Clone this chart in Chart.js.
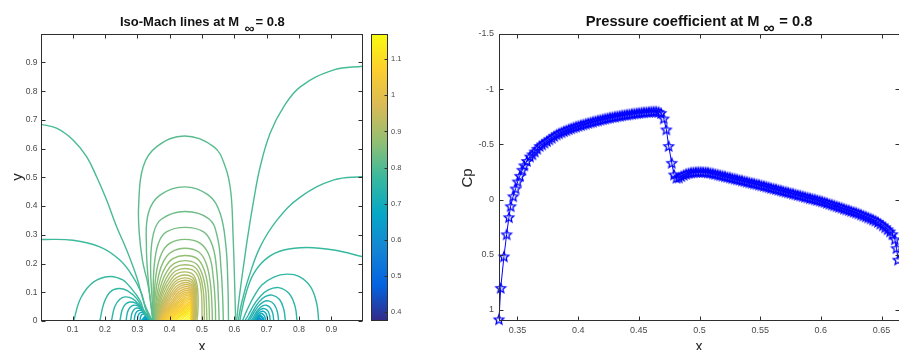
<!DOCTYPE html>
<html>
<head>
<meta charset="utf-8">
<script src="https://cdn.jsdelivr.net/npm/chart.js@4.4.1/dist/chart.umd.min.js"></script>
<style>
  html, body { margin: 0; padding: 0; background: #fff; width: 899px; height: 350px; overflow: hidden; }
  .panel { position: absolute; top: 0; height: 350px; }
</style>
</head>
<body>
<div class="panel" style="left:0;width:366px"><canvas id="machChart"></canvas></div>
<div class="panel" style="left:365px;width:50px"><canvas id="barChart"></canvas></div>
<div class="panel" style="left:440px;width:470px"><canvas id="cpChart"></canvas></div>
<script>
// ---- axes / ticks ----
const machTicksX = [0.1, 0.2, 0.3, 0.4, 0.5, 0.6, 0.7, 0.8, 0.9];
const machTicksY = [0, 0.1, 0.2, 0.3, 0.4, 0.5, 0.6, 0.7, 0.8, 0.9];
const machRange = [0.375, 1.17];
const barTicks = [0.4, 0.5, 0.6, 0.7, 0.8, 0.9, 1, 1.1];
const cpTicksX = [0.35, 0.4, 0.45, 0.5, 0.55, 0.6, 0.65];
const cpTicksY = [-1.5, -1, -0.5, 0, 0.5, 1];

// ---- iso-Mach lines: [level, [[x, y], ...]] ----
const farLeftLines = [
  [0.79, [[0,0.685],[0.05,0.671],[0.101,0.63],[0.143,0.572],[0.174,0.502],[0.205,0.421],[0.236,0.328],[0.267,0.247],[0.298,0.153],[0.322,0.06],[0.3465,0]]],
  [0.78, [[0,0.284],[0.101,0.281],[0.184,0.258],[0.246,0.212],[0.287,0.153],[0.313,0.096],[0.327,0.037],[0.346,0]]]
];
const leftLoops = [
  [0.77, [[0.103,0],[0.125,0.08],[0.165,0.136],[0.215,0.155],[0.255,0.143],[0.277,0.119],[0.308,0.072],[0.324,0.026],[0.3455,0]]],
  [0.76, [[0.184,0],[0.196,0.06],[0.215,0.1],[0.241,0.113],[0.27,0.105],[0.298,0.078],[0.318,0.04],[0.345,0]]],
  [0.75, [[0.22,0],[0.23,0.05],[0.245,0.075],[0.262,0.084],[0.285,0.078],[0.306,0.056],[0.322,0.028],[0.3445,0]]],
  [0.74, [[0.246,0],[0.253,0.038],[0.263,0.058],[0.277,0.066],[0.295,0.062],[0.312,0.045],[0.326,0.021],[0.344,0]]],
  [0.73, [[0.265,0],[0.27,0.032],[0.278,0.048],[0.289,0.055],[0.303,0.052],[0.317,0.038],[0.328,0.018],[0.3435,0]]],
  [0.72, [[0.279,0],[0.283,0.026],[0.29,0.04],[0.299,0.045],[0.31,0.042],[0.321,0.031],[0.33,0.014],[0.343,0]]],
  [0.71, [[0.29,0],[0.293,0.021],[0.298,0.032],[0.306,0.037],[0.315,0.035],[0.324,0.025],[0.331,0.011],[0.3425,0]]],
  [0.70, [[0.3,0],[0.302,0.017],[0.306,0.026],[0.312,0.03],[0.319,0.028],[0.326,0.02],[0.332,0.009],[0.342,0]]],
  [0.69, [[0.308,0],[0.31,0.014],[0.313,0.021],[0.317,0.024],[0.323,0.022],[0.328,0.016],[0.333,0.007],[0.3415,0]]]
];
const leftCore = [
  [0.68, [[0.311,0],[0.331,0.022],[0.341,0]]],
  [0.66, [[0.314,0],[0.332,0.02],[0.3405,0]]],
  [0.64, [[0.317,0],[0.3325,0.018],[0.34,0]]],
  [0.62, [[0.319,0],[0.333,0.016],[0.3395,0]]],
  [0.60, [[0.321,0],[0.3335,0.014],[0.339,0]]],
  [0.58, [[0.323,0],[0.334,0.012],[0.3385,0]]],
  [0.56, [[0.325,0],[0.334,0.011],[0.338,0]]],
  [0.54, [[0.326,0],[0.334,0.01],[0.3375,0]]],
  [0.52, [[0.327,0],[0.334,0.009],[0.337,0]]],
  [0.50, [[0.328,0],[0.334,0.008],[0.3365,0]]],
  [0.48, [[0.329,0],[0.334,0.007],[0.336,0]]],
  [0.46, [[0.33,0],[0.334,0.006],[0.3355,0]]],
  [0.44, [[0.331,0],[0.334,0.005],[0.335,0]]],
  [0.42, [[0.332,0],[0.334,0.004],[0.3348,0]]],
  [0.40, [[0.333,0],[0.334,0.003],[0.3345,0]]]
];
const arches = [
  [0.81, [[0.348,0],[0.334,0.12],[0.316,0.21],[0.306,0.305],[0.304,0.4],[0.318,0.537],[0.36,0.607],[0.446,0.644],[0.536,0.607],[0.572,0.537],[0.589,0.45],[0.596,0.3],[0.601,0.13],[0.604,0]]],
  [0.82, [[0.349,0],[0.343,0.05],[0.334,0.14],[0.328,0.26],[0.334,0.375],[0.37,0.438],[0.446,0.467],[0.52,0.438],[0.556,0.375],[0.574,0.26],[0.58,0.13],[0.582,0]]],
  [0.83, [[0.35,0],[0.346,0.07],[0.341,0.2],[0.35,0.305],[0.375,0.355],[0.447,0.381],[0.522,0.355],[0.548,0.29],[0.559,0.18],[0.564,0.08],[0.566,0]]],
  [0.84, [[0.351,0],[0.349,0.08],[0.352,0.19],[0.365,0.27],[0.39,0.31],[0.447,0.326],[0.505,0.31],[0.533,0.26],[0.546,0.17],[0.551,0.07],[0.553,0]]],
  [0.85, [[0.352,0],[0.352,0.08],[0.359,0.17],[0.375,0.235],[0.4,0.27],[0.447,0.284],[0.495,0.27],[0.523,0.225],[0.535,0.15],[0.541,0.06],[0.542,0]]],
  [0.86, [[0.353,0],[0.355,0.08],[0.366,0.16],[0.382,0.21],[0.405,0.24],[0.447,0.253],[0.49,0.24],[0.513,0.2],[0.526,0.13],[0.531,0.05],[0.532,0]]],
  [0.87, [[0.354,0],[0.358,0.07],[0.371,0.145],[0.388,0.19],[0.41,0.217],[0.447,0.228],[0.485,0.217],[0.506,0.18],[0.518,0.12],[0.522,0.05],[0.523,0]]],
  [0.88, [[0.355,0],[0.361,0.07],[0.376,0.135],[0.393,0.175],[0.413,0.2],[0.447,0.21],[0.481,0.2],[0.5,0.165],[0.511,0.11],[0.514,0.05],[0.515,0]]],
  [0.89, [[0.356,0],[0.364,0.065],[0.38,0.125],[0.397,0.163],[0.416,0.187],[0.447,0.196],[0.478,0.187],[0.495,0.155],[0.504,0.105],[0.507,0.05],[0.507,0]]],
  [0.90, [[0.357,0],[0.366,0.06],[0.383,0.117],[0.4,0.152],[0.418,0.174],[0.447,0.183],[0.476,0.174],[0.491,0.145],[0.498,0.1],[0.5,0.05],[0.5,0]]],
  [0.91, [[0.358,0],[0.368,0.055],[0.386,0.109],[0.403,0.142],[0.42,0.163],[0.447,0.171],[0.472,0.162],[0.484,0.13],[0.488,0.08],[0.487,0.03],[0.484,0]]],
  [0.92, [[0.359,0],[0.37,0.05],[0.389,0.1],[0.405,0.133],[0.422,0.152],[0.447,0.16],[0.47,0.152],[0.481,0.125],[0.484,0.08],[0.483,0.03],[0.481,0]]],
  [0.93, [[0.36,0],[0.372,0.048],[0.392,0.094],[0.408,0.125],[0.424,0.143],[0.448,0.15],[0.469,0.143],[0.479,0.118],[0.481,0.075],[0.48,0.03],[0.479,0]]],
  [0.94, [[0.361,0],[0.374,0.045],[0.395,0.089],[0.41,0.118],[0.426,0.135],[0.449,0.142],[0.468,0.135],[0.477,0.11],[0.479,0.07],[0.478,0.03],[0.477,0]]],
  [0.95, [[0.362,0],[0.376,0.043],[0.398,0.084],[0.413,0.111],[0.428,0.127],[0.45,0.134],[0.467,0.127],[0.476,0.104],[0.477,0.065],[0.477,0.03],[0.476,0]]],
  [0.96, [[0.363,0],[0.378,0.04],[0.401,0.08],[0.416,0.105],[0.43,0.12],[0.451,0.127],[0.467,0.12],[0.475,0.098],[0.476,0.06],[0.476,0.03],[0.475,0]]],
  [0.97, [[0.364,0],[0.38,0.038],[0.404,0.075],[0.418,0.099],[0.432,0.113],[0.452,0.12],[0.466,0.113],[0.474,0.092],[0.475,0.055],[0.475,0.025],[0.474,0]]],
  [0.98, [[0.365,0],[0.382,0.036],[0.407,0.07],[0.421,0.093],[0.434,0.106],[0.453,0.113],[0.466,0.106],[0.473,0.087],[0.474,0.05],[0.474,0.02],[0.473,0]]]
];
const pocketLines = [
  [0.99, [[0.366,0],[0.385,0.035],[0.41,0.066],[0.423,0.087],[0.436,0.1],[0.454,0.107],[0.466,0.1],[0.472,0.082],[0.4725,0.045],[0.4725,0]]],
  [1.00, [[0.368,0],[0.388,0.034],[0.413,0.063],[0.426,0.082],[0.438,0.094],[0.455,0.101],[0.466,0.094],[0.4715,0.077],[0.472,0.04],[0.472,0]]],
  [1.01, [[0.37,0],[0.391,0.033],[0.416,0.06],[0.429,0.077],[0.44,0.089],[0.456,0.095],[0.466,0.089],[0.471,0.072],[0.4715,0.035],[0.4715,0]]],
  [1.02, [[0.372,0],[0.394,0.032],[0.419,0.057],[0.432,0.073],[0.442,0.084],[0.457,0.09],[0.466,0.084],[0.4705,0.068],[0.471,0.035],[0.471,0]]],
  [1.03, [[0.375,0],[0.397,0.031],[0.422,0.054],[0.434,0.069],[0.444,0.079],[0.458,0.085],[0.466,0.079],[0.47,0.064],[0.4705,0.03],[0.4705,0]]],
  [1.04, [[0.378,0],[0.4,0.03],[0.425,0.051],[0.437,0.065],[0.446,0.075],[0.459,0.08],[0.466,0.075],[0.4695,0.06],[0.47,0.03],[0.47,0]]],
  [1.05, [[0.381,0],[0.403,0.028],[0.428,0.048],[0.439,0.061],[0.448,0.07],[0.46,0.075],[0.466,0.07],[0.469,0.056],[0.4695,0.028],[0.4695,0]]],
  [1.06, [[0.385,0],[0.407,0.027],[0.431,0.045],[0.441,0.057],[0.45,0.065],[0.461,0.07],[0.466,0.065],[0.4685,0.052],[0.469,0.026],[0.469,0]]],
  [1.07, [[0.389,0],[0.411,0.025],[0.434,0.042],[0.444,0.053],[0.452,0.06],[0.461,0.065],[0.466,0.06],[0.468,0.048],[0.4685,0.024],[0.4685,0]]],
  [1.08, [[0.393,0],[0.415,0.024],[0.437,0.039],[0.446,0.049],[0.454,0.056],[0.462,0.06],[0.466,0.056],[0.4675,0.044],[0.468,0.022],[0.468,0]]],
  [1.09, [[0.398,0],[0.419,0.022],[0.44,0.036],[0.448,0.045],[0.455,0.051],[0.462,0.055],[0.4655,0.051],[0.467,0.04],[0.4675,0.02],[0.4675,0]]],
  [1.10, [[0.403,0],[0.423,0.02],[0.443,0.033],[0.45,0.041],[0.456,0.046],[0.462,0.05],[0.4655,0.046],[0.4665,0.036],[0.467,0.018],[0.467,0]]],
  [1.11, [[0.409,0],[0.428,0.018],[0.446,0.03],[0.452,0.037],[0.457,0.042],[0.4625,0.045],[0.465,0.041],[0.466,0.032],[0.4665,0.016],[0.4665,0]]],
  [1.12, [[0.415,0],[0.432,0.016],[0.448,0.027],[0.454,0.033],[0.458,0.037],[0.4625,0.04],[0.465,0.037],[0.4658,0.028],[0.466,0.014],[0.466,0]]],
  [1.13, [[0.422,0],[0.437,0.014],[0.45,0.023],[0.455,0.028],[0.459,0.032],[0.4625,0.034],[0.4645,0.031],[0.4655,0.024],[0.4655,0.012],[0.4655,0]]],
  [1.14, [[0.43,0],[0.442,0.011],[0.452,0.019],[0.456,0.023],[0.46,0.026],[0.4625,0.028],[0.464,0.026],[0.465,0.02],[0.465,0]]],
  [1.15, [[0.44,0],[0.449,0.008],[0.455,0.014],[0.459,0.018],[0.4625,0.021],[0.464,0.018],[0.4645,0.01],[0.4645,0]]],
  [1.16, [[0.45,0],[0.456,0.006],[0.46,0.01],[0.4625,0.013],[0.464,0.01],[0.464,0]]]
];
const farRightLines = [
  [0.79, [[1,0.887],[0.908,0.874],[0.805,0.816],[0.753,0.746],[0.711,0.654],[0.68,0.537],[0.66,0.421],[0.643,0.305],[0.628,0.188],[0.615,0.08],[0.607,0]]],
  [0.78, [[1,0.503],[0.908,0.491],[0.805,0.432],[0.732,0.351],[0.68,0.258],[0.645,0.153],[0.622,0.06],[0.612,0]]],
  [0.77, [[1,0.223],[0.908,0.247],[0.825,0.256],[0.753,0.247],[0.7,0.218],[0.66,0.165],[0.636,0.096],[0.622,0.03],[0.617,0]]]
];
const rightLoops = [
  [0.76, [[0.861,0],[0.855,0.06],[0.836,0.119],[0.8,0.155],[0.763,0.163],[0.722,0.153],[0.685,0.125],[0.66,0.084],[0.64,0.04],[0.625,0]]],
  [0.75, [[0.794,0],[0.788,0.05],[0.77,0.095],[0.737,0.116],[0.705,0.108],[0.68,0.085],[0.66,0.055],[0.643,0.02],[0.632,0]]],
  [0.74, [[0.758,0],[0.753,0.04],[0.74,0.075],[0.717,0.09],[0.695,0.085],[0.675,0.065],[0.658,0.035],[0.645,0.008],[0.639,0]]],
  [0.73, [[0.737,0],[0.733,0.032],[0.723,0.058],[0.706,0.07],[0.689,0.066],[0.673,0.05],[0.659,0.026],[0.646,0]]],
  [0.72, [[0.722,0],[0.719,0.026],[0.711,0.046],[0.699,0.055],[0.686,0.052],[0.674,0.04],[0.662,0.02],[0.652,0]]],
  [0.71, [[0.711,0],[0.709,0.02],[0.703,0.036],[0.693,0.043],[0.683,0.041],[0.673,0.031],[0.664,0.015],[0.657,0]]],
  [0.70, [[0.703,0],[0.701,0.016],[0.697,0.028],[0.689,0.034],[0.681,0.032],[0.673,0.024],[0.666,0.011],[0.661,0]]],
  [0.69, [[0.696,0],[0.695,0.012],[0.691,0.021],[0.685,0.026],[0.679,0.024],[0.672,0.017],[0.667,0.008],[0.664,0]]]
];
const rightCore = [
  [0.67, [[0.6655,0],[0.668,0.012],[0.679,0.02],[0.689,0.012],[0.692,0]]],
  [0.65, [[0.667,0],[0.669,0.01],[0.6775,0.016],[0.686,0.01],[0.688,0]]],
  [0.63, [[0.668,0],[0.6695,0.0075],[0.676,0.012],[0.6825,0.0075],[0.684,0]]],
  [0.61, [[0.669,0],[0.67,0.0055],[0.675,0.009],[0.68,0.0055],[0.681,0]]],
  [0.59, [[0.67,0],[0.671,0.004],[0.674,0.006],[0.677,0.004],[0.678,0]]],
  [0.57, [[0.671,0],[0.6735,0.004],[0.676,0]]],
  [0.55, [[0.672,0],[0.673,0.002],[0.674,0]]]
];

// ---- pressure coefficient along the bump ----
const cpX = [
  0.3348, 0.3362, 0.3389, 0.3411, 0.3430, 0.3444, 0.3465, 0.3485, 0.3502, 0.3521, 0.3540, 0.3556, 0.3578, 0.3603,
  0.3623, 0.3643, 0.3663, 0.3683, 0.3703, 0.3723, 0.3743, 0.3763, 0.3783, 0.3803, 0.3823, 0.3843, 0.3863, 0.3883,
  0.3903, 0.3923, 0.3943, 0.3963, 0.3983, 0.4003, 0.4023, 0.4043, 0.4063, 0.4083, 0.4103, 0.4123, 0.4143, 0.4163,
  0.4183, 0.4203, 0.4223, 0.4243, 0.4263, 0.4283, 0.4303, 0.4323, 0.4343, 0.4363, 0.4383, 0.4403, 0.4423, 0.4443,
  0.4463, 0.4483, 0.4503, 0.4523, 0.4543, 0.4563, 0.4583, 0.4603, 0.4623, 0.4643, 0.4663, 0.4683,
  0.4705, 0.4727, 0.4746, 0.4771, 0.4790, 0.4810,
  0.483, 0.485, 0.487, 0.489, 0.491, 0.493, 0.495, 0.497, 0.499, 0.501, 0.503, 0.505,
  0.507, 0.509, 0.511, 0.513, 0.515, 0.517, 0.519, 0.521, 0.523, 0.525, 0.527, 0.529, 0.531, 0.533, 0.535, 0.537,
  0.539, 0.541, 0.543, 0.545, 0.547, 0.549, 0.551, 0.553, 0.555, 0.557, 0.559, 0.561, 0.563, 0.565, 0.567, 0.569,
  0.571, 0.573, 0.575, 0.577, 0.579, 0.581, 0.583, 0.585, 0.587, 0.589, 0.591, 0.593, 0.595, 0.597, 0.599,
  0.601, 0.603, 0.605, 0.607, 0.609, 0.611, 0.613, 0.615, 0.617, 0.619, 0.621, 0.623, 0.625, 0.627, 0.629,
  0.631, 0.633, 0.635, 0.637, 0.639, 0.641, 0.643, 0.645, 0.647, 0.649, 0.651, 0.653, 0.655, 0.657, 0.659,
  0.6609, 0.6623, 0.6636
];
const cpValues = [
  1.085, 0.80, 0.515, 0.315, 0.16, 0.06, -0.03, -0.10, -0.164, -0.215, -0.27, -0.31, -0.35, -0.39,
  -0.41, -0.435, -0.46, -0.485, -0.50, -0.515, -0.53, -0.545, -0.56, -0.575, -0.59, -0.60, -0.61, -0.62,
  -0.628, -0.638, -0.646, -0.654, -0.661, -0.668, -0.675, -0.681, -0.688, -0.694, -0.70, -0.706, -0.712, -0.717,
  -0.723, -0.728, -0.733, -0.738, -0.743, -0.747, -0.751, -0.755, -0.759, -0.763, -0.767, -0.770, -0.773, -0.777,
  -0.780, -0.783, -0.786, -0.789, -0.791, -0.793, -0.795, -0.797, -0.798, -0.798, -0.795, -0.785,
  -0.735, -0.635, -0.485, -0.333, -0.227, -0.197,
  -0.20, -0.212, -0.224, -0.233, -0.240, -0.245, -0.248, -0.250, -0.251, -0.251, -0.250, -0.249,
  -0.246, -0.242, -0.237, -0.232, -0.227, -0.221, -0.216, -0.211, -0.205, -0.200, -0.194, -0.189, -0.184, -0.178, -0.173, -0.167,
  -0.162, -0.156, -0.151, -0.146, -0.140, -0.135, -0.129, -0.124, -0.118, -0.112, -0.106, -0.100, -0.095, -0.089, -0.083, -0.077,
  -0.071, -0.066, -0.060, -0.054, -0.048, -0.042, -0.037, -0.031, -0.025, -0.019, -0.013, -0.008, -0.002, 0.004, 0.010,
  0.016, 0.023, 0.030, 0.038, 0.045, 0.052, 0.060, 0.067, 0.074, 0.082, 0.089, 0.096, 0.104, 0.111, 0.118,
  0.126, 0.135, 0.144, 0.153, 0.162, 0.171, 0.181, 0.191, 0.203, 0.218, 0.234, 0.251, 0.269, 0.289, 0.313,
  0.36, 0.44, 0.545
];

Chart.defaults.font.family = '"Liberation Sans", Arial, Helvetica, sans-serif';
Chart.defaults.animation = false;

const parula = ['#352a87', '#0363e1', '#1485d4', '#06a7c6', '#38b99e', '#92bf73', '#d9ba56', '#fcce2e', '#f9fb0e'];
const hexRgb = h => [1, 3, 5].map(i => parseInt(h.slice(i, i + 2), 16));

function machColor(m) {
  const t = Math.min(1, Math.max(0, (m - machRange[0]) / (machRange[1] - machRange[0]))) * (parula.length - 1);
  const i = Math.min(parula.length - 2, Math.floor(t));
  const a = hexRgb(parula[i]), b = hexRgb(parula[i + 1]);
  const f = t - i;
  return `rgb(${a.map((v, k) => Math.round(v + (b[k] - v) * f)).join(',')})`;
}

// five-pointed outline star used as the Cp marker
function makeStar(r, width) {
  const size = Math.ceil(r * 2 + 4);
  const c = document.createElement('canvas');
  c.width = c.height = size;
  const g = c.getContext('2d');
  g.strokeStyle = '#0000ff';
  g.lineWidth = width;
  g.lineJoin = 'miter';
  g.beginPath();
  for (let i = 0; i < 10; i++) {
    const rad = i % 2 ? r * 0.45 : r;
    const a = -Math.PI / 2 + i * Math.PI / 5;
    const px = size / 2 + rad * Math.cos(a), py = size / 2 + 0.5 + rad * Math.sin(a);
    if (i) g.lineTo(px, py); else g.moveTo(px, py);
  }
  g.closePath();
  g.stroke();
  return c;
}

// box around the plot area with inward tick marks
const boxLayer = (sides, len = 4) => ({
  id: 'boxLayer',
  afterDatasetsDraw(chart) {
    const { ctx, chartArea: a, scales } = chart;
    const L = Math.round(a.left) + 0.5, R = Math.round(a.right) - 0.5;
    const T = Math.round(a.top) + 0.5, B = Math.round(a.bottom) - 0.5;
    ctx.save();
    ctx.strokeStyle = '#2e2e2e';
    ctx.lineWidth = 1;
    ctx.strokeRect(L, T, R - L, B - T);
    ctx.beginPath();
    if (sides.x) {
      scales.x.ticks.forEach(t => {
        const p = Math.round(scales.x.getPixelForValue(t.value)) + 0.5;
        if (sides.x.includes('bottom')) { ctx.moveTo(p, B); ctx.lineTo(p, B - len); }
        if (sides.x.includes('top')) { ctx.moveTo(p, T); ctx.lineTo(p, T + len); }
      });
    }
    if (sides.y) {
      scales.y.ticks.forEach(t => {
        const p = Math.round(scales.y.getPixelForValue(t.value)) + 0.5;
        if (sides.y.includes('left')) { ctx.moveTo(L, p); ctx.lineTo(L + len, p); }
        if (sides.y.includes('right')) { ctx.moveTo(R, p); ctx.lineTo(R - len, p); }
      });
    }
    ctx.stroke();
    ctx.restore();
  }
});

// titles and axis names
const textLayer = (items) => ({
  id: 'textLayer',
  afterDraw(chart) {
    const { ctx } = chart;
    items.forEach(it => {
      ctx.save();
      ctx.font = it.font;
      ctx.fillStyle = it.color || '#111';
      ctx.textAlign = it.align || 'left';
      ctx.textBaseline = it.baseline || 'alphabetic';
      ctx.translate(it.x, it.y);
      if (it.rotate) ctx.rotate(it.rotate);
      ctx.fillText(it.text, 0, 0);
      ctx.restore();
    });
  }
});

const fixedTicks = (values) => (scale) => { scale.ticks = values.map(value => ({ value })); };
const tickLabel = (v) => String(v);

// ---- iso-Mach contour plot ----
const contourSets = [
  ...farLeftLines, ...leftLoops, ...leftCore, ...farRightLines, ...rightLoops, ...rightCore, ...arches, ...pocketLines
].map(([level, path]) => ({
  data: path.map(([x, y]) => ({ x, y })),
  showLine: true,
  borderColor: machColor(level),
  borderWidth: 1.4,
  pointRadius: 0,
  tension: 0.4
}));

new Chart(document.getElementById('machChart'), {
  type: 'scatter',
  data: { datasets: contourSets },
  options: {
    responsive: true,
    maintainAspectRatio: false,
    events: [],
    layout: { padding: { top: 34, right: 3, left: 0, bottom: 0 } },
    plugins: { legend: { display: false }, tooltip: { enabled: false } },
    scales: {
      x: {
        type: 'linear', min: 0.002, max: 0.998,
        afterBuildTicks: fixedTicks(machTicksX),
        afterFit: (s) => { s.height = 29; },
        grid: { display: false, drawTicks: false }, border: { display: false },
        ticks: { autoSkip: false, maxRotation: 0, padding: 4, color: '#4a4a4a', font: { size: 8.5 }, callback: tickLabel }
      },
      y: {
        type: 'linear', min: 0, max: 0.999,
        afterBuildTicks: fixedTicks(machTicksY),
        afterFit: (s) => { s.width = 41; },
        grid: { display: false, drawTicks: false }, border: { display: false },
        ticks: { autoSkip: false, padding: 3.5, color: '#4a4a4a', font: { size: 8.5 }, callback: tickLabel }
      }
    }
  },
  plugins: [
    boxLayer({ x: ['bottom', 'top'], y: ['left', 'right'] }),
    textLayer([
      { text: 'Iso-Mach lines at M', x: 120, y: 25.5, font: 'bold 13px "Liberation Sans", Arial, sans-serif' },
      { text: '\u221e', x: 249.5, y: 29, align: 'center', baseline: 'middle', font: 'bold 14px "Liberation Sans", Arial, sans-serif' },
      { text: '= 0.8', x: 255.5, y: 25.5, font: 'bold 13px "Liberation Sans", Arial, sans-serif' },
      { text: 'y', x: 18, y: 177, align: 'center', baseline: 'middle', rotate: -Math.PI / 2, color: '#262626', font: '15px "Liberation Sans", Arial, sans-serif' },
      { text: 'x', x: 202, y: 350.5, align: 'center', color: '#262626', font: '14px "Liberation Sans", Arial, sans-serif' }
    ])
  ]
});

// ---- colour bar ----
new Chart(document.getElementById('barChart'), {
  type: 'bar',
  data: {
    labels: ['M'],
    datasets: [{
      data: [machRange],
      barPercentage: 1,
      categoryPercentage: 1,
      borderWidth: 0,
      backgroundColor: (c) => {
        const { chart } = c;
        if (!chart.chartArea) return parula[4];
        const ys = chart.scales.y;
        const g = chart.ctx.createLinearGradient(0, ys.getPixelForValue(machRange[0]), 0, ys.getPixelForValue(machRange[1]));
        parula.forEach((col, i) => g.addColorStop(i / (parula.length - 1), col));
        return g;
      }
    }]
  },
  options: {
    responsive: true,
    maintainAspectRatio: false,
    events: [],
    layout: { padding: { top: 34, right: 0, left: 6, bottom: 29 } },
    plugins: { legend: { display: false }, tooltip: { enabled: false } },
    scales: {
      x: { display: false },
      y: {
        position: 'right', min: machRange[0], max: machRange[1],
        afterBuildTicks: fixedTicks(barTicks),
        afterFit: (s) => { s.width = 27; },
        grid: { display: false, drawTicks: false }, border: { display: false },
        ticks: { autoSkip: false, padding: 3, color: '#4a4a4a', font: { size: 7.5 }, callback: tickLabel }
      }
    }
  },
  plugins: [boxLayer({ y: ['right'] }, 3)]
});

// ---- pressure coefficient ----
const starMark = makeStar(5, 1.3);

new Chart(document.getElementById('cpChart'), {
  type: 'scatter',
  data: {
    datasets: [{
      data: cpX.map((x, i) => ({ x, y: cpValues[i] })),
      showLine: true,
      borderColor: '#0000ff',
      borderWidth: 1,
      pointStyle: starMark,
      pointRadius: 5,
      clip: false
    }]
  },
  options: {
    responsive: true,
    maintainAspectRatio: false,
    events: [],
    layout: { padding: { top: 34, right: 10, left: 0, bottom: 0 } },
    plugins: { legend: { display: false }, tooltip: { enabled: false } },
    scales: {
      x: {
        type: 'linear', min: 0.3348, max: 0.6652,
        afterBuildTicks: fixedTicks(cpTicksX),
        afterFit: (s) => { s.height = 29; },
        grid: { display: false, drawTicks: false }, border: { display: false },
        ticks: { autoSkip: false, maxRotation: 0, padding: 4, color: '#4a4a4a', font: { size: 9 }, callback: tickLabel }
      },
      y: {
        type: 'linear', min: -1.5, max: 1.1, reverse: true,
        afterBuildTicks: fixedTicks(cpTicksY),
        afterFit: (s) => { s.width = 59; },
        grid: { display: false, drawTicks: false }, border: { display: false },
        ticks: { autoSkip: false, padding: 5, color: '#4a4a4a', font: { size: 9 }, callback: tickLabel }
      }
    }
  },
  plugins: [
    boxLayer({ x: ['bottom', 'top'], y: ['left', 'right'] }),
    textLayer([
      { text: 'Pressure coefficient at M', x: 145.7, y: 25.7, font: 'bold 14.7px "Liberation Sans", Arial, sans-serif' },
      { text: '\u221e', x: 329, y: 29, align: 'center', baseline: 'middle', font: 'bold 16px "Liberation Sans", Arial, sans-serif' },
      { text: '= 0.8', x: 339.3, y: 25.7, font: 'bold 14.7px "Liberation Sans", Arial, sans-serif' },
      { text: 'Cp', x: 27.5, y: 178, align: 'center', baseline: 'middle', rotate: -Math.PI / 2, color: '#262626', font: '15px "Liberation Sans", Arial, sans-serif' },
      { text: 'x', x: 259, y: 350.5, align: 'center', color: '#262626', font: '14px "Liberation Sans", Arial, sans-serif' }
    ])
  ]
});
</script>
</body>
</html>
